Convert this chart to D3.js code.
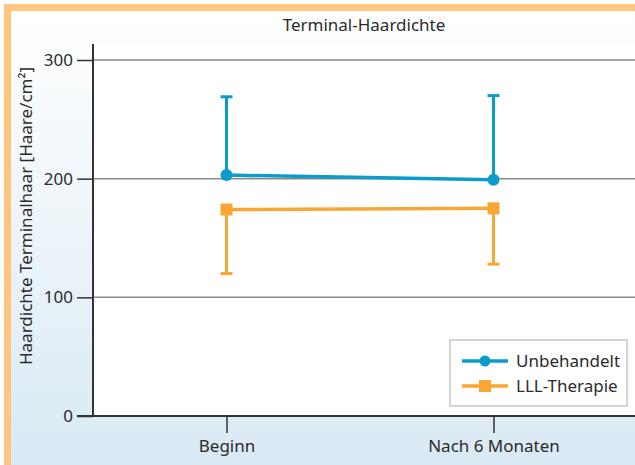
<!DOCTYPE html>
<html>
<head>
<meta charset="utf-8">
<script src="https://cdn.jsdelivr.net/npm/d3@7"></script>
<style>
  body { margin: 0; padding: 0; background: #fff; }
  text { font-family: "Noto Sans", sans-serif; fill: #2b2b2b; }
</style>
</head>
<body>
<div id="chart"></div>
<script>
// data
var categories = ["Beginn", "Nach 6 Monaten"];
var seriesNames = ["Unbehandelt", "LLL-Therapie"];
var unbehandelt = [203, 199];
var unbehandeltUpper = [269, 270];
var lllTherapie = [174, 175];
var lllLower = [120, 128];
var yTicks = [0, 100, 200, 300];

var width = 635, height = 465;
var blue = "#0b9ccb", orange = "#f9a634";
var fs = "17px";

var svg = d3.select("#chart").append("svg")
    .attr("width", width)
    .attr("height", height);

// background gradient + orange frame
var defs = svg.append("defs");
var grad = defs.append("linearGradient")
    .attr("id", "bg").attr("x1", 0).attr("y1", 0).attr("x2", 0).attr("y2", 1);
grad.append("stop").attr("offset", "0%").attr("stop-color", "#ffffff");
grad.append("stop").attr("offset", "100%").attr("stop-color", "#d9e9f3");

svg.append("rect").attr("x", 11).attr("y", 11).attr("width", width - 11).attr("height", height - 11)
    .attr("fill", "url(#bg)");
svg.append("rect").attr("x", 4).attr("y", 4).attr("width", width - 4).attr("height", 7)
    .attr("fill", "#fdc57f");
svg.append("rect").attr("x", 4).attr("y", 4).attr("width", 7).attr("height", height - 4)
    .attr("fill", "#fdc57f");

// scales
var x = d3.scalePoint().domain(categories).range([93, 627]).padding(0.5);
var y = d3.scaleLinear().domain([0, 300]).range([416, 60]);

var plotLeft = 93, plotRight = width, plotTop = 44, plotBottom = 416;

// white plot area
svg.append("rect")
    .attr("x", plotLeft).attr("y", plotTop)
    .attr("width", plotRight - plotLeft).attr("height", plotBottom - plotTop)
    .attr("fill", "#fff");

// grid lines
svg.selectAll("line.grid")
    .data(yTicks.filter(function (d) { return d > 0; }))
    .enter().append("line")
    .attr("class", "grid")
    .attr("x1", plotLeft).attr("x2", plotRight)
    .attr("y1", function (d) { return y(d); })
    .attr("y2", function (d) { return y(d); })
    .attr("stroke", "#8a8a8a").attr("stroke-width", 1.5);

// y axis
var yAxis = svg.append("g")
    .attr("transform", "translate(" + plotLeft + ",0)")
    .call(d3.axisLeft(y).tickValues(yTicks).tickSize(16).tickPadding(4));
yAxis.select(".domain").remove();
yAxis.selectAll("line").attr("stroke", "#333").attr("stroke-width", 1.5);
yAxis.selectAll("text").style("font-size", fs).attr("fill", "#2b2b2b");
svg.append("line")
    .attr("x1", plotLeft).attr("x2", plotLeft)
    .attr("y1", plotTop).attr("y2", plotBottom)
    .attr("stroke", "#333").attr("stroke-width", 2);

// x axis
var xAxis = svg.append("g")
    .attr("transform", "translate(0," + plotBottom + ")")
    .call(d3.axisBottom(x).tickSize(17).tickPadding(7));
xAxis.select(".domain").remove();
xAxis.selectAll("line").attr("stroke", "#333").attr("stroke-width", 1.5);
xAxis.selectAll("text").style("font-size", fs).attr("fill", "#2b2b2b");
svg.append("line")
    .attr("x1", 77).attr("x2", plotRight)
    .attr("y1", plotBottom).attr("y2", plotBottom)
    .attr("stroke", "#333").attr("stroke-width", 2);

// title
svg.append("text")
    .attr("x", (plotLeft + plotRight) / 2).attr("y", 31)
    .attr("text-anchor", "middle")
    .style("font-size", fs)
    .text("Terminal-Haardichte");

// y label
svg.append("text")
    .attr("transform", "translate(32," + 216 + ") rotate(-90)")
    .attr("text-anchor", "middle")
    .style("font-size", fs)
    .text("Haardichte Terminalhaar [Haare/cm²]");

var capW = 12;

// error bars
categories.forEach(function (c, i) {
    var cx = x(c);
    // blue: upwards
    svg.append("line").attr("x1", cx).attr("x2", cx)
        .attr("y1", y(unbehandelt[i])).attr("y2", y(unbehandeltUpper[i]))
        .attr("stroke", blue).attr("stroke-width", 3);
    svg.append("line").attr("x1", cx - capW / 2).attr("x2", cx + capW / 2)
        .attr("y1", y(unbehandeltUpper[i])).attr("y2", y(unbehandeltUpper[i]))
        .attr("stroke", blue).attr("stroke-width", 3);
    // orange: downwards
    svg.append("line").attr("x1", cx).attr("x2", cx)
        .attr("y1", y(lllTherapie[i])).attr("y2", y(lllLower[i]))
        .attr("stroke", orange).attr("stroke-width", 3);
    svg.append("line").attr("x1", cx - capW / 2).attr("x2", cx + capW / 2)
        .attr("y1", y(lllLower[i])).attr("y2", y(lllLower[i]))
        .attr("stroke", orange).attr("stroke-width", 3);
});

// lines
var line = d3.line()
    .x(function (d, i) { return x(categories[i]); })
    .y(function (d) { return y(d); });

svg.append("path").datum(lllTherapie)
    .attr("d", line).attr("fill", "none")
    .attr("stroke", orange).attr("stroke-width", 3.5);
svg.append("path").datum(unbehandelt)
    .attr("d", line).attr("fill", "none")
    .attr("stroke", blue).attr("stroke-width", 3.5);

// markers
svg.selectAll("rect.lll")
    .data(lllTherapie).enter().append("rect")
    .attr("x", function (d, i) { return x(categories[i]) - 6; })
    .attr("y", function (d) { return y(d) - 6; })
    .attr("width", 12).attr("height", 12)
    .attr("fill", orange);
svg.selectAll("circle.unb")
    .data(unbehandelt).enter().append("circle")
    .attr("cx", function (d, i) { return x(categories[i]); })
    .attr("cy", function (d) { return y(d); })
    .attr("r", 6)
    .attr("fill", blue);

// legend
var legend = svg.append("g").attr("transform", "translate(450,340)");
legend.append("rect")
    .attr("x", 0).attr("y", 0).attr("width", 177).attr("height", 66)
    .attr("fill", "#fff").attr("stroke", "#aaa").attr("stroke-width", 1);
seriesNames.forEach(function (name, i) {
    var ly = 21 + i * 25;
    var col = i === 0 ? blue : orange;
    legend.append("line").attr("x1", 12).attr("x2", 58)
        .attr("y1", ly).attr("y2", ly)
        .attr("stroke", col).attr("stroke-width", 3.5);
    if (i === 0) {
        legend.append("circle").attr("cx", 35).attr("cy", ly).attr("r", 5.5).attr("fill", col);
    } else {
        legend.append("rect").attr("x", 29).attr("y", ly - 6).attr("width", 12).attr("height", 12).attr("fill", col);
    }
    legend.append("text")
        .attr("x", 66).attr("y", ly + 6)
        .style("font-size", fs)
        .text(name);
});
</script>
</body>
</html>
